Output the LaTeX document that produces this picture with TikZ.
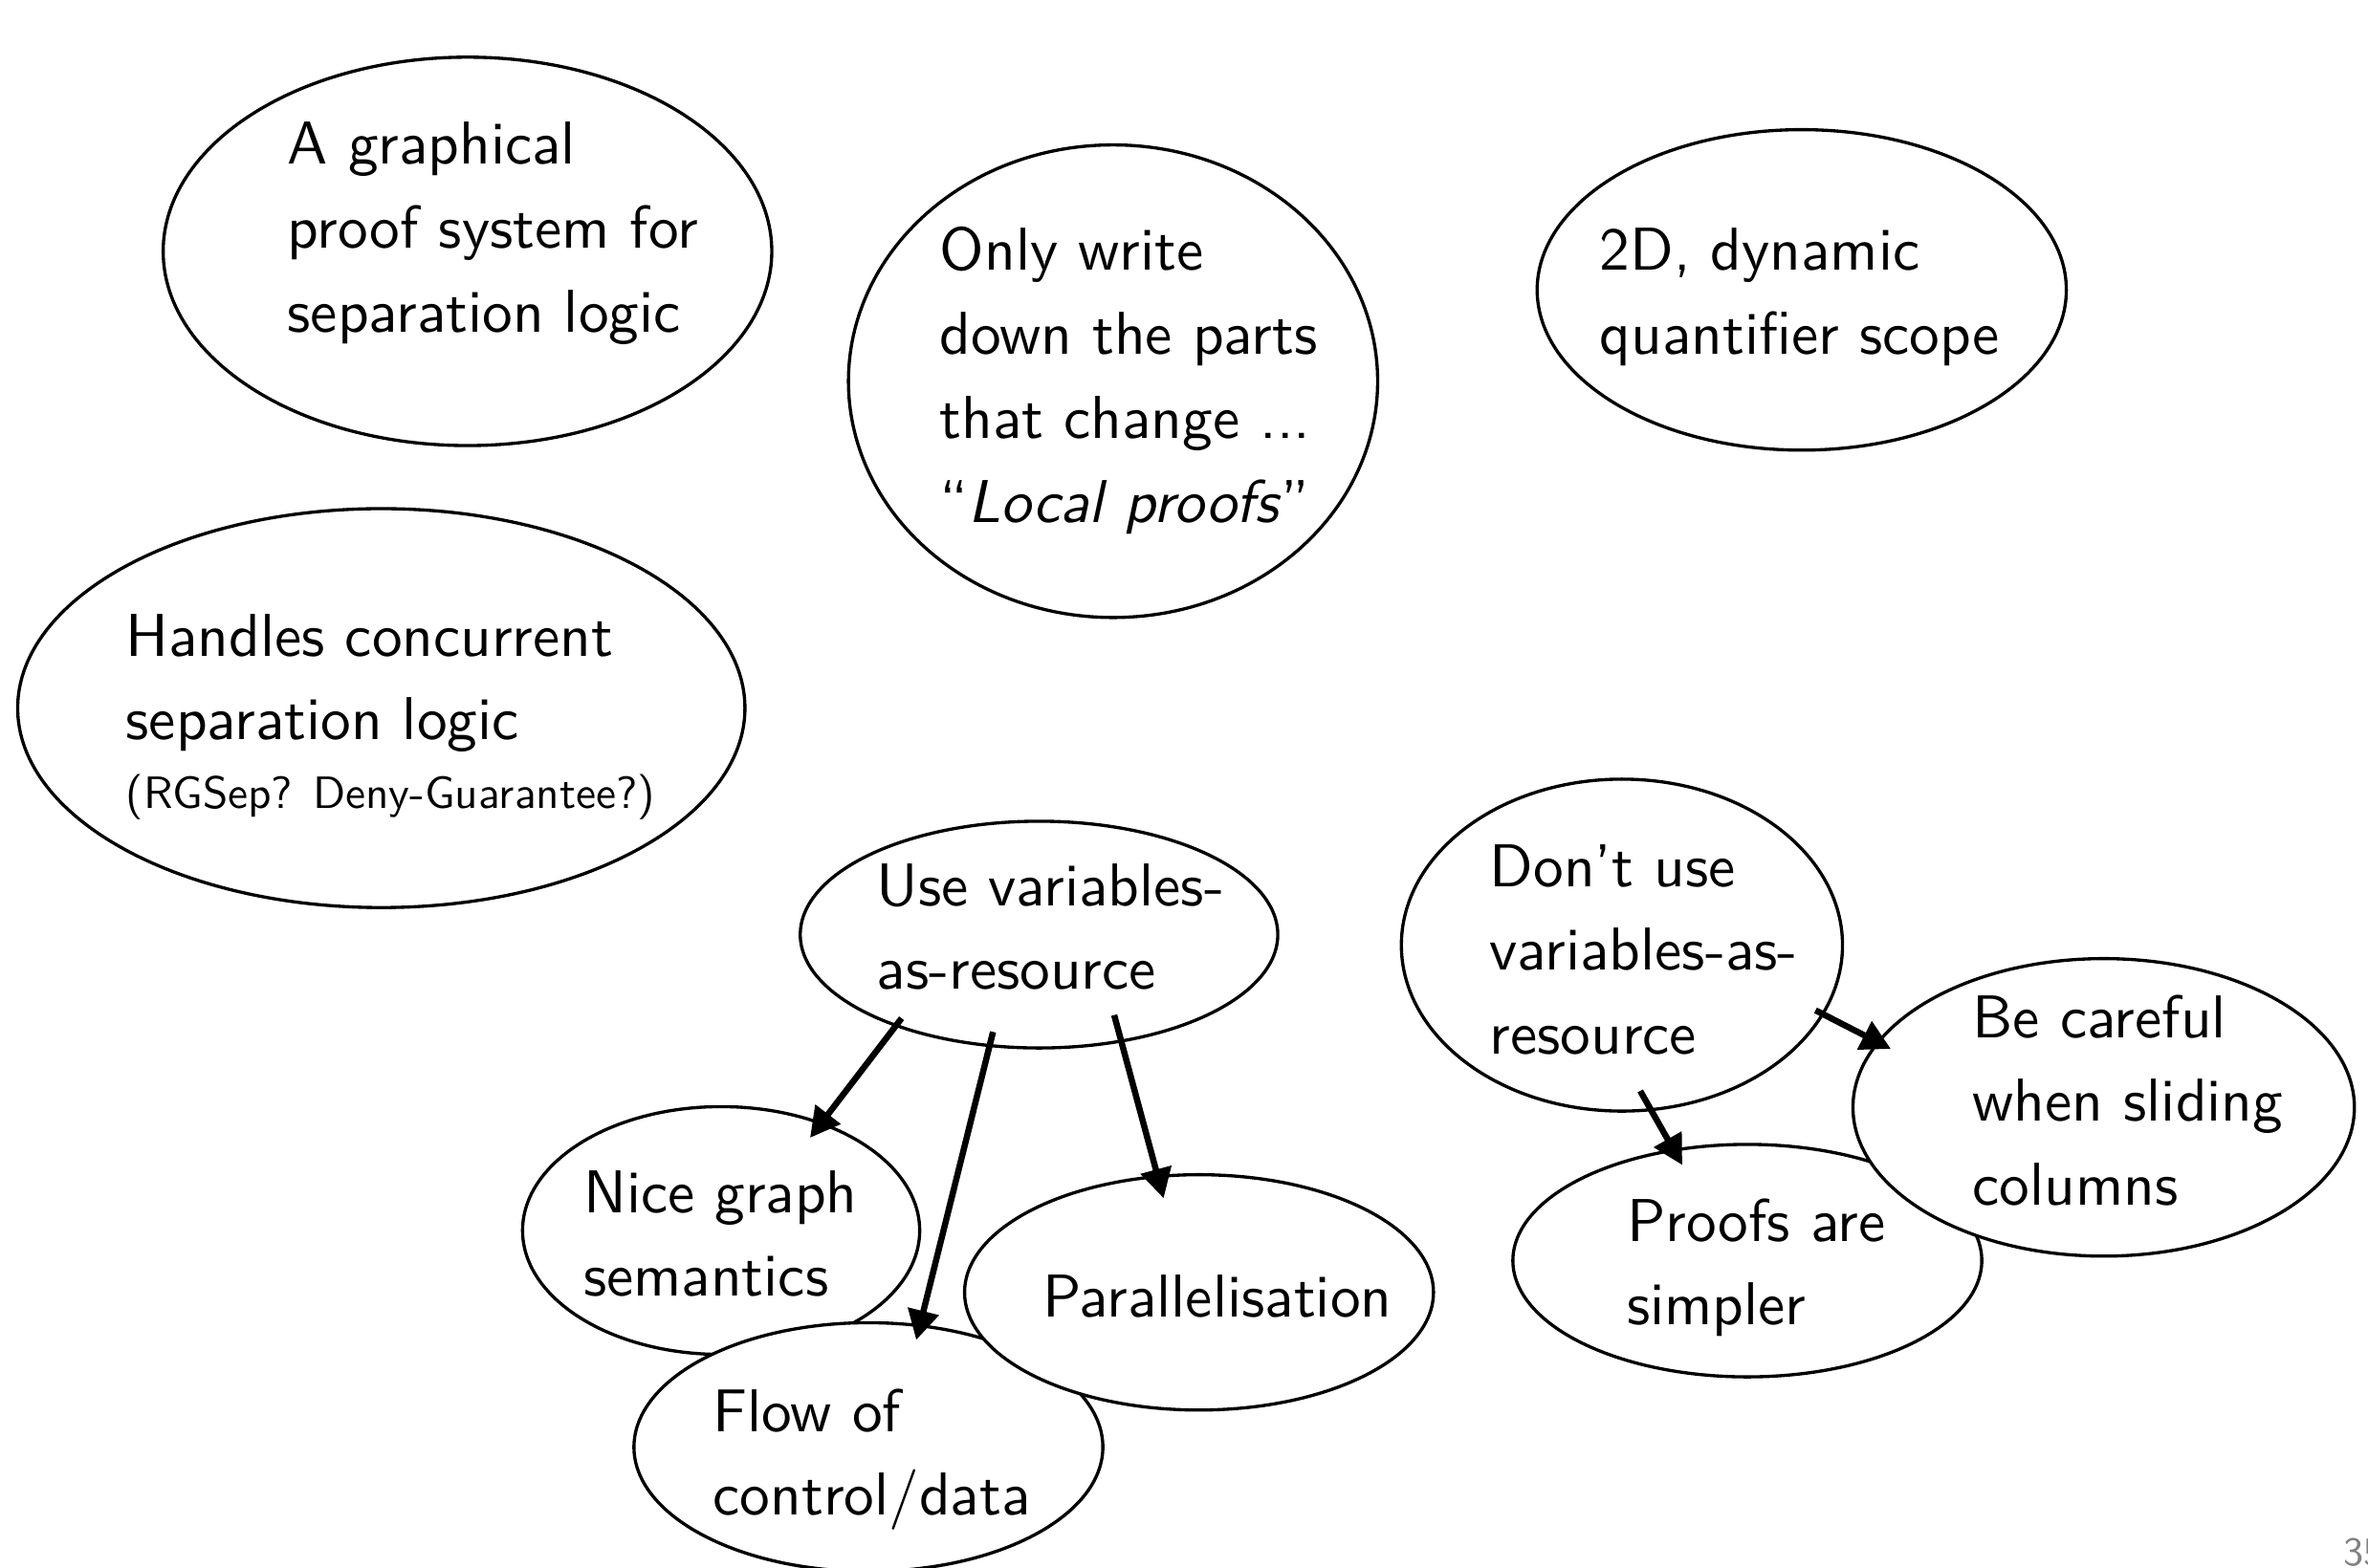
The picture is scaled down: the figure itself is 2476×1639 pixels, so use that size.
\documentclass[tikz,border=0pt]{standalone}
\usepackage{fontspec}
\setsansfont{lmsans10-regular.otf}[
  Ligatures=TeX,
  ItalicFont=lmsans10-oblique.otf,
  BoldFont=lmsans10-bold.otf,
  BoldItalicFont=lmsans10-boldoblique.otf]
\usetikzlibrary{shapes.geometric,arrows.meta,calc}
\newcommand\bodyfont{\sffamily\fontsize{18}{25}\selectfont}
\newcommand\notefont{\sffamily\fontsize{13.45}{17}\selectfont}
\newcommand\lines[1]{\begin{tabular}[t]{@{}l@{}}#1\end{tabular}}
\tikzset{
  bubble/.style={draw, ellipse, line width=0.95pt, fill=white, inner sep=0pt},
  blurb/.style={anchor=base west, inner sep=0pt, font=\bodyfont},
  note/.style={anchor=base west, inner sep=0pt, font=\notefont},
  arr/.style={line width=1.85pt, -{Triangle[length=0.31cm,width=0.32cm]}},
}
\begin{document}
\begin{tikzpicture}[x=0.01cm, y=-0.01cm]
\useasboundingbox (0,0) rectangle (2476,1639);

% top row
\node[bubble, minimum width=6.36cm, minimum height=4.06cm] (gp) at (488.8,262.9) {};
\node[blurb] (gp-t) at (300,171.5) {\lines{A graphical\\proof system for\\separation logic}};

\node[bubble, minimum width=5.53cm, minimum height=4.94cm] (ow) at (1163.8,398.7) {};
\node[blurb] (ow-t) at (982,282.5) {\lines{Only write\\down the parts\\that change ...\\``\textit{Local proofs}''}};

\node[bubble, minimum width=5.53cm, minimum height=3.35cm] (dd) at (1883.9,303.2) {};
\node[blurb] (dd-t) at (1672,282.5) {\lines{2D, dynamic\\quantifier scope}};

% concurrency
\node[bubble, minimum width=7.60cm, minimum height=4.17cm] (hc) at (398.7,740.6) {};
\node[blurb] (hc-t) at (131,686) {\lines{Handles concurrent\\separation logic}};
\node[note] (hc-n) at (131,845) {(RGSep? Deny-Guarantee?)};

% variables as resource
\node[bubble, minimum width=4.99cm, minimum height=2.37cm] (uv) at (1086.4,977.5) {};
\node[blurb] (uv-t) at (916,947) {\lines{Use variables-\\as-resource}};

\node[bubble, minimum width=4.15cm, minimum height=2.59cm] (ng) at (754,1287) {};
\node[blurb] (ng-t) at (609.5,1268) {\lines{Nice graph\\semantics}};

\node[bubble, minimum width=4.90cm, minimum height=2.60cm] (fl) at (908,1513.5) {};
\node[blurb] (fl-t) at (745,1497) {\lines{Flow of\\control/data}};

\node[bubble, minimum width=4.90cm, minimum height=2.46cm] (pa) at (1253.7,1351.7) {};
\node[blurb] (pa-t) at (1089.5,1377) {Parallelisation};

% no variables as resource
\node[bubble, minimum width=4.61cm, minimum height=3.47cm] (du) at (1695.9,988.5) {};
\node[blurb] (du-t) at (1557,927) {\lines{Don't use\\variables-as-\\resource}};

\node[bubble, minimum width=4.90cm, minimum height=2.43cm] (ps) at (1827,1318.5) {};
\node[blurb] (ps-t) at (1700.6,1298) {\lines{Proofs are\\simpler}};

\node[bubble, minimum width=5.24cm, minimum height=3.11cm] (bc) at (2199.6,1158.2) {};
\node[blurb] (bc-t) at (2062,1085) {\lines{Be careful\\when sliding\\columns}};

% consequences
\draw[arr] ($(uv.center)+(-143.7,87.5)$) -- ($(ng.center)+(93,-97)$);
\draw[arr] ($(uv.center)+(-48.1,101.8)$) -- ($(fl.center)+(50,-112)$);
\draw[arr] ($(uv.center)+(78.6,84.2)$) -- ($(pa.center)+(-37,-98.4)$);
\draw[arr] ($(du.center)+(202.4,68.2)$) -- ($(bc.center)+(-222.6,-61.2)$);
\draw[arr] ($(du.center)+(19.1,152.5)$) -- ($(ps.center)+(-68,-100)$);

% frame number
\node[anchor=base west, inner sep=0pt, font=\sffamily\fontsize{12}{14}\selectfont, text=black!50] (pagenum) at (2450,1637) {35};
\end{tikzpicture}
\end{document}
